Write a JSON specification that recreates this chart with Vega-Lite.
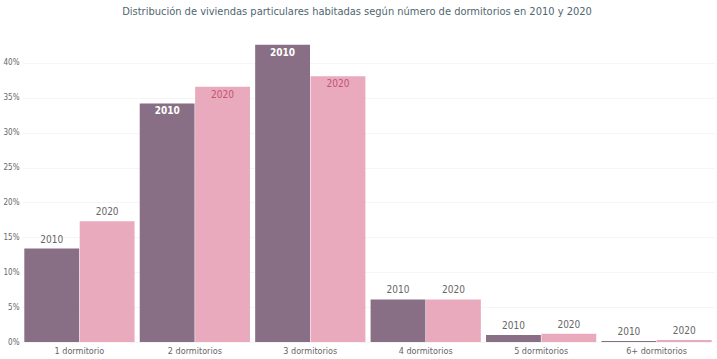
{
  "$schema": "https://vega.github.io/schema/vega-lite/v6.json",
  "width": 692,
  "height": 300,
  "autosize": "none",
  "padding": {"left": 22, "top": 42, "right": 3, "bottom": 17},
  "background": "white",
  "title": {
    "text": "Distribución de viviendas particulares habitadas según número de dormitorios en 2010 y 2020",
    "font": "DejaVu Sans Condensed",
    "fontSize": 11,
    "fontWeight": "normal",
    "color": "#4f6670",
    "anchor": "middle",
    "dx": -11,
    "offset": 25
  },
  "config": {
    "view": {"stroke": null},
    "font": "DejaVu Sans Condensed"
  },
  "data": {
    "values": [
      {"cat": "1 dormitorio", "year": "2010", "value": 13.4},
      {"cat": "1 dormitorio", "year": "2020", "value": 17.3},
      {"cat": "2 dormitorios", "year": "2010", "value": 34.2},
      {"cat": "2 dormitorios", "year": "2020", "value": 36.6},
      {"cat": "3 dormitorios", "year": "2010", "value": 42.6},
      {"cat": "3 dormitorios", "year": "2020", "value": 38.1},
      {"cat": "4 dormitorios", "year": "2010", "value": 6.1},
      {"cat": "4 dormitorios", "year": "2020", "value": 6.1},
      {"cat": "5 dormitorios", "year": "2010", "value": 1.0},
      {"cat": "5 dormitorios", "year": "2020", "value": 1.2},
      {"cat": "6+ dormitorios", "year": "2010", "value": 0.15},
      {"cat": "6+ dormitorios", "year": "2020", "value": 0.3}
    ]
  },
  "encoding": {
    "x": {
      "field": "cat", "type": "nominal", "sort": null,
      "scale": {"paddingInner": 0.045, "paddingOuter": 0.02},
      "axis": {"title": null, "labelAngle": 0, "domain": false, "ticks": false, "labelFontSize": 9, "labelColor": "#666666", "labelPadding": 4}
    },
    "xOffset": {"field": "year", "type": "nominal", "scale": {"paddingInner": 0.01}},
    "y": {
      "field": "value", "type": "quantitative",
      "scale": {"domain": [0, 43], "nice": false},
      "axis": {"title": null, "values": [0, 5, 10, 15, 20, 25, 30, 35, 40], "labelExpr": "datum.value + '%'", "domain": false, "ticks": false, "labelFontSize": 8, "labelColor": "#666666", "labelPadding": 3, "gridColor": "#f2f2f2", "gridWidth": 0.8}
    }
  },
  "layer": [
    {
      "mark": {"type": "bar"},
      "encoding": {
        "color": {"field": "year", "type": "nominal", "scale": {"domain": ["2010", "2020"], "range": ["#886f86", "#e9aabe"]}, "legend": null}
      }
    },
    {
      "transform": [{"filter": "datum.value < 30"}],
      "mark": {"type": "text", "baseline": "bottom", "dy": -4, "fontSize": 10, "color": "#666666"},
      "encoding": {"text": {"field": "year"}}
    },
    {
      "transform": [{"filter": "datum.value >= 30 && datum.year == '2010'"}],
      "mark": {"type": "text", "baseline": "top", "dy": 3, "fontSize": 10, "fontWeight": "bold", "color": "#ffffff"},
      "encoding": {"text": {"field": "year"}}
    },
    {
      "transform": [{"filter": "datum.value >= 30 && datum.year == '2020'"}],
      "mark": {"type": "text", "baseline": "top", "dy": 3, "fontSize": 10, "color": "#c4546f"},
      "encoding": {"text": {"field": "year"}}
    }
  ]
}
